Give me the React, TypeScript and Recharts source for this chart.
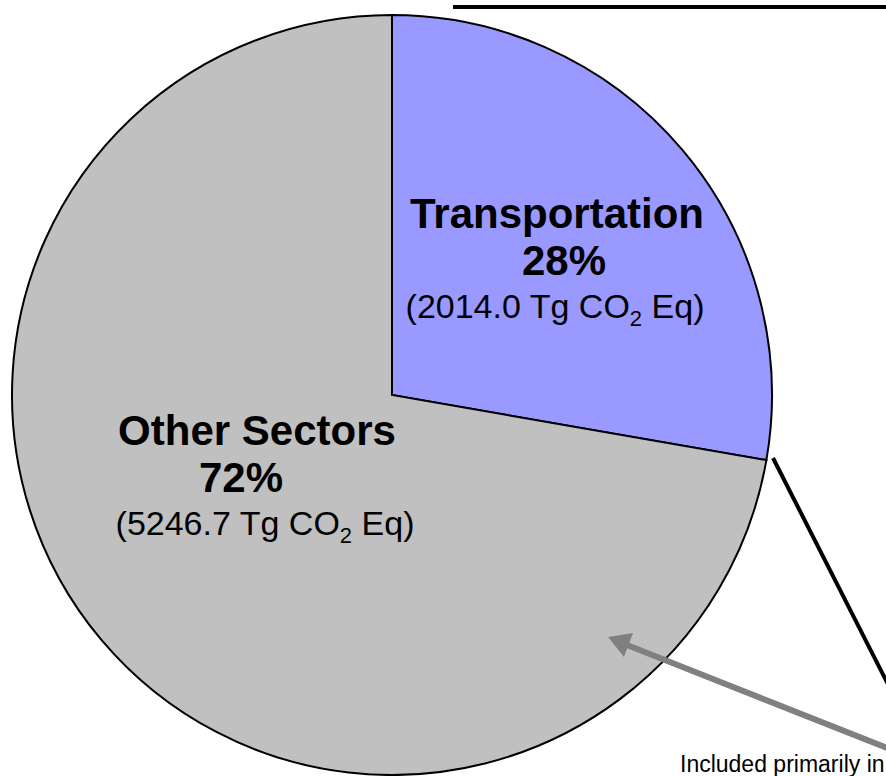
import React from "react";
import { PieChart, Pie, Cell } from "recharts";

const sectors = ["Transportation", "Other Sectors"];
const emissions = [2014.0, 5246.7];
const percents = ["28%", "72%"];
const colors = ["#9999FF", "#C0C0C0"];
const note = "Included primarily in";

const data = sectors.map((name, i) => ({
  name,
  value: emissions[i],
  pct: percents[i],
}));

const FONT = '"Liberation Sans", Arial, sans-serif';

// label block placement, relative to pie centre
const labelOffset: Record<string, { dx: number; dy: number; pctDx: number; subDx: number }> = {
  Transportation: { dx: 165, dy: -167, pctDx: 7, subDx: -2 },
  "Other Sectors": { dx: -135, dy: 50, pctDx: -16, subDx: 8 },
};

const renderLabel = (props: any) => {
  const { cx, cy, payload } = props;
  const name = payload?.name ?? props.name;
  const off = labelOffset[name];
  if (!off) return null;
  const x = cx + off.dx;
  const y = cy + off.dy;
  const item = data.find((d) => d.name === name)!;
  return (
    <g fontFamily={FONT} fill="#000">
      <text x={x} y={y} textAnchor="middle" fontSize={42} fontWeight="bold">
        {name}
      </text>
      <text x={x + off.pctDx} y={y + 47} textAnchor="middle" fontSize={42} fontWeight="bold">
        {item.pct}
      </text>
      <text x={x + off.subDx} y={y + 90} textAnchor="middle" fontSize={34}>
        ({item.value.toFixed(1)} Tg CO
        <tspan fontSize={22} dy={8}>2</tspan>
        <tspan dy={-8}> Eq)</tspan>
      </text>
    </g>
  );
};

// connector lines and arrow that lead off to the cropped second chart
const Overlay = () => (
  <svg width={886} height={776} style={{ position: "absolute", left: 0, top: 0, pointerEvents: "none" }}>
    <line x1={453} y1={7} x2={900} y2={7} stroke="#000" strokeWidth={4} />
    <line x1={773} y1={458} x2={895} y2={698} stroke="#000" strokeWidth={4} />
    <line x1={905} y1={755} x2={622} y2={643} stroke="#808080" strokeWidth={6} />
    <polygon points="608,637 633,633 624,657" fill="#808080" />
    <text x={680} y={772} fontFamily={FONT} fontSize={23} fill="#000">
      {note}
    </text>
  </svg>
);

export default function App() {
  return (
    <div style={{ position: "absolute", left: 0, top: 0, width: 886, height: 776, overflow: "hidden", background: "#fff" }}>
      <PieChart width={886} height={776} margin={{ top: 0, right: 0, bottom: 0, left: 0 }}>
        <Pie
          data={data}
          dataKey="value"
          nameKey="name"
          cx={392}
          cy={395}
          outerRadius={380}
          startAngle={90}
          endAngle={-270}
          stroke="#000"
          strokeWidth={2}
          label={renderLabel}
          labelLine={false}
          isAnimationActive={false}
        >
          {data.map((d, i) => (
            <Cell key={d.name} fill={colors[i]} />
          ))}
        </Pie>
      </PieChart>
      <Overlay />
    </div>
  );
}
